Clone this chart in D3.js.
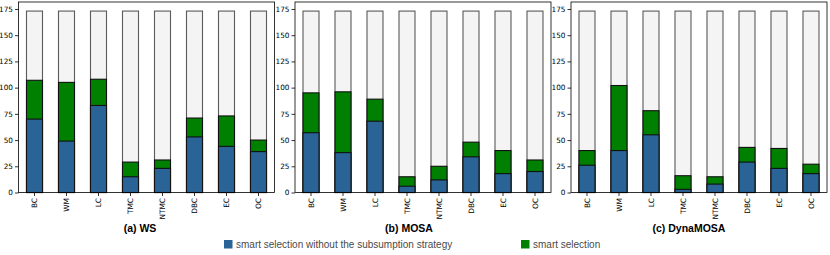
<!DOCTYPE html>
<html><head><meta charset="utf-8">
<script src="https://cdn.jsdelivr.net/npm/d3@7"></script>
<style>body{margin:0;background:#fff}svg{display:block}</style>
</head><body><svg id="c" width="830" height="255"></svg>
<script>
const categories = ["BC","WM","LC","TMC","NTMC","DBC","EC","OC"];
const panelTitles = ["(a) WS","(b) MOSA","(c) DynaMOSA"];
const total = 173;
// top of the blue part (smart selection without subsumption)
const wsBlue    = [70,49,83,15,23,53,44,39];
const wsGreen   = [107,105,108,29,31,71,73,50];
const mosaBlue  = [57,38,68,6,12,34,18,20];
const mosaGreen = [95,96,89,15,25,48,40,31];
const dynaBlue  = [26,40,55,3,8,29,23,18];
const dynaGreen = [40,102,78,16,15,43,42,27];
const yTicks = [0,25,50,75,100,125,150,175];
const legendLabels = ["smart selection without the subsumption strategy","smart selection"];

const blueC = "#2a6496", greenC = "#008000", grayC = "#f4f4f4";
const panels = [
  {blue: wsBlue, green: wsGreen},
  {blue: mosaBlue, green: mosaGreen},
  {blue: dynaBlue, green: dynaGreen}
];
const svg = d3.select("#c");
const lefts = [18.5, 295, 571];
const W = 256, plotTop = 2, plotBottom = 192.5;
const y = d3.scaleLinear().domain([0, total*1.05]).range([plotBottom, plotTop]);
const titleX = [140, 409, 689];

panels.forEach((p, i) => {
  const g = svg.append("g").attr("transform", `translate(${lefts[i]},0)`);
  const x = d3.scaleBand().domain(categories).range([0, W]).paddingInner(0.5).paddingOuter(0.25);
  const bw = x.bandwidth();
  g.selectAll(".tot").data(categories).join("rect")
    .attr("x", d => x(d)).attr("width", bw)
    .attr("y", y(total)).attr("height", y(0)-y(total))
    .attr("fill", grayC).attr("stroke", "#5a5a5a").attr("stroke-width", 1.1);
  g.selectAll(".gr").data(p.green).join("rect")
    .attr("x", (d,j) => x(categories[j])).attr("width", bw)
    .attr("y", d => y(d)).attr("height", d => y(0)-y(d))
    .attr("fill", greenC).attr("stroke", "#111").attr("stroke-width", 1.1);
  g.selectAll(".bl").data(p.blue).join("rect")
    .attr("x", (d,j) => x(categories[j])).attr("width", bw)
    .attr("y", d => y(d)).attr("height", d => y(0)-y(d))
    .attr("fill", blueC).attr("stroke", "#111").attr("stroke-width", 1.1);
  g.append("rect").attr("x",0).attr("y",plotTop).attr("width",W).attr("height",plotBottom-plotTop)
    .attr("fill","none").attr("stroke","#000").attr("stroke-width",0.8);
  const ya = g.append("g").call(d3.axisLeft(y).tickValues(yTicks).tickSize(3.5).tickPadding(2));
  ya.select(".domain").remove();
  ya.selectAll("text").attr("font-family","DejaVu Sans").attr("font-size",7.3).attr("fill","#000");
  ya.selectAll("line").attr("stroke","#000").attr("stroke-width",0.8);
  const xa = g.append("g").attr("transform",`translate(0,${plotBottom})`).call(d3.axisBottom(x).tickSize(3.5).tickPadding(2));
  xa.select(".domain").remove();
  xa.selectAll("line").attr("stroke","#000").attr("stroke-width",0.8);
  xa.selectAll("text").attr("font-family","DejaVu Sans").attr("font-size",7.4).attr("fill","#000")
    .attr("transform","rotate(-90)").attr("text-anchor","end").attr("dy","0.35em").attr("x",-5.5).attr("y",0);
  svg.append("text").attr("x", titleX[i]).attr("y", 232).attr("text-anchor","middle")
    .attr("font-family","Liberation Sans, Arial, sans-serif").attr("font-weight","bold").attr("font-size",10.5)
    .attr("fill","#000").text(panelTitles[i]);
});

const legX = [224, 521], legC = [blueC, greenC];
legendLabels.forEach((t, i) => {
  svg.append("rect").attr("x", legX[i]).attr("y", 240).attr("width", 8.5).attr("height", 8.5).attr("fill", legC[i]);
  svg.append("text").attr("x", legX[i]+12).attr("y", 248.3).attr("font-family","Liberation Sans, Arial, sans-serif")
    .attr("font-size", 10).attr("fill","#4a4a4a").text(t);
});
</script></body></html>
